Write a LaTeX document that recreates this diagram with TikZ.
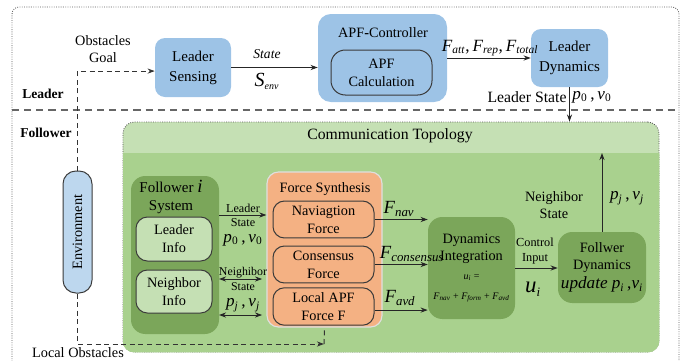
\documentclass[tikz,border=0pt]{standalone}
\usepackage{fontspec}
\setmainfont{Liberation Serif}
\usetikzlibrary{positioning,arrows.meta}

\definecolor{leaderblue}{HTML}{9DC3E6}
\definecolor{envblue}{HTML}{BDD7EE}
\definecolor{greenlight}{HTML}{C5E0B4}
\definecolor{greenmid}{HTML}{A9D18E}
\definecolor{greendark}{HTML}{7BA65A}
\definecolor{forceorange}{HTML}{F4B183}
\definecolor{edgegray}{HTML}{3A3A3A}

\newcommand{\fsz}[2]{\fontsize{#1}{#2}\selectfont}
\newcommand{\vsub}[2]{\textit{#1}\textsubscript{#2}}

\tikzset{
	leaderbox/.style={fill=leaderblue, rounded corners=7pt, align=center, font=\fsz{10.5}{14}},
	innerbox/.style={draw=edgegray, line width=0.7pt, rounded corners=8pt, align=center, font=\fsz{10}{12.5}},
	greenbox/.style={fill=greendark, rounded corners=8pt, align=center},
	arr/.style={-{Stealth[length=5pt,width=3.6pt]}, line width=0.7pt, draw=black!85},
	dblarr/.style={{Stealth[length=5pt,width=3.6pt]}-{Stealth[length=5pt,width=3.6pt]}, line width=0.7pt, draw=black!85},
	dasharr/.style={-{Stealth[length=5pt,width=3.6pt]}, dash pattern=on 3.5pt off 2.5pt, line width=0.7pt, draw=black!80},
	smalltxt/.style={font=\fsz{8.5}{10}, align=center},
	labeltxt/.style={font=\fsz{10}{12}, align=center},
	mathtxt/.style={font=\fsz{12}{14}},
}

\begin{document}
\begin{tikzpicture}[x=0.7pt,y=-0.7pt]
	\useasboundingbox (0,0) rectangle (697,360);
	\draw[densely dotted, gray!70!black, line width=0.6pt, rounded corners=5pt] (12,366) -- (12,7) -- (679,7) -- (679,366);
	\draw[dash pattern=on 5pt off 3.5pt, line width=0.8pt, gray!80!black] (12,110) -- (679,110);

	\node[font=\fsz{9.5}{11}\bfseries] (leadlbl) at (43,94) {Leader};
	\node[font=\fsz{9.5}{11}\bfseries] (follbl) at (46,133) {Follower};
	\node[labeltxt] (obsgoal) at (103,49) {Obstacles\\Goal};

	\node[leaderbox, minimum width=53.2pt, minimum height=41.3pt] (lsense) at (193,67.5) {Leader\\Sensing};
	\node[leaderbox, rounded corners=9pt, minimum width=90.3pt, minimum height=61.6pt] (apf) at (382.5,58) {};
	\node[font=\fsz{10}{12}] (apftitle) at (383,33) {APF\textbf{-}Controller};
	\node[innerbox, fill=leaderblue, rounded corners=10pt, minimum width=70.7pt, minimum height=31.5pt] (apfcalc) at (381.5,72.5) {APF\\Calculation};
	\node[leaderbox, minimum width=53.9pt, minimum height=40.6pt] (ldyn) at (569.5,58) {Leader\\Dynamics};

	\draw[arr] (lsense.east) -- (lsense.east -| apf.west);
	\node[font=\fsz{9.5}{11}\itshape] (statelbl) at (267,54) {State};
	\node[font=\fsz{14}{16}] (senvlbl) at (267,81) {\vsub{S}{\fsz{7}{8}\textit{env}}};
	\draw[arr] (apf.east) -- (ldyn.west);
	\node[mathtxt] (flbl) at (490,48) {\vsub{F}{\textit{att}},\,\vsub{F}{\textit{rep}},\,\vsub{F}{\textit{total}}};

	\node[draw=gray!70!black, densely dotted, line width=0.6pt, fill=greenlight, rounded corners=8pt, minimum width=375.2pt, minimum height=161pt] (comm) at (391,237) {};
	\coordinate (bodytop) at (123,153);
	\begin{scope}
		\clip[rounded corners=8pt] (comm.south west) rectangle (comm.north east);
		\fill[greenmid] (bodytop) rectangle (660,353);
	\end{scope}
	\node[font=\fsz{11}{13}] (commtitle) at (390,136) {Communication Topology};

	\draw[arr] (ldyn.south) -- (ldyn.south |- comm.north);
	\node[font=\fsz{11}{13}] (lstatelbl) at (527,97) {Leader State};
	\node[mathtxt] (p0top) at (592,97) {\vsub{p}{0}\,,\,\vsub{v}{0}};

	\node[fill=envblue, draw=edgegray, line width=0.7pt, rounded corners=9pt, minimum width=20.3pt, minimum height=85.4pt, font=\fsz{10}{12}] (env) at (77.5,232) {\rotatebox{90}{Environment}};
	\draw[dasharr] (env.north) |- ([yshift=-2.5pt]lsense.west);

	\node[greenbox, rounded corners=10pt, minimum width=61.6pt, minimum height=110.6pt] (fsys) at (175,255) {};
	\node[font=\fsz{10.5}{12.5}, align=center] (fsystitle) at (171,197) {Follower \textit{\fsz{13}{12.5}i}\\System};
	\node[innerbox, fill=greenlight, minimum width=53.2pt, minimum height=30.8pt] (linfo) at (174,239) {Leader\\Info};
	\node[innerbox, fill=greenlight, minimum width=53.2pt, minimum height=30.1pt] (ninfo) at (174,291.5) {Neighbor\\Info};

	\node[fill=forceorange, draw=gray!25, line width=0.8pt, rounded corners=8pt, minimum width=80.5pt, minimum height=108.5pt] (fsyn) at (324.5,249.5) {};
	\node[font=\fsz{10}{12}] (fsyntitle) at (325,189) {Force Synthesis};
	\node[innerbox, fill=forceorange, minimum width=70.7pt, minimum height=24.5pt] (navf) at (323.5,219.5) {Naviagtion\\Force};
	\node[innerbox, fill=forceorange, minimum width=70.7pt, minimum height=23.1pt] (consf) at (323.5,264.5) {Consensus\\Force};
	\node[innerbox, fill=forceorange, minimum width=70.7pt, minimum height=23.1pt] (apff) at (323.5,306.5) {Local APF\\Force F};

	\coordinate (lsin) at (219,215);
	\coordinate (nbup) at (219,279);
	\coordinate (nbdn) at (219,315);
	\draw[arr] (lsin) -- (lsin -| fsyn.west);
	\draw[dblarr, shorten >=3pt] (nbup) -- (nbup -| fsyn.west);
	\draw[dblarr, shorten >=3pt] (nbdn) -- (nbdn -| fsyn.west);
	\node[smalltxt] (lslbl) at (243,215) {Leader\\State};
	\node[mathtxt] (p0lbl) at (243,240) {\vsub{p}{0}\,,\,\vsub{v}{0}};
	\node[smalltxt, font=\fsz{8.3}{11}] (nslbl) at (243,279) {Neighibor\\State};
	\node[mathtxt, inner sep=1pt] (pjlbl) at (243,305) {\vsub{p}{\textit{j}}\,,\,\vsub{v}{\textit{j}}};

	\node[greenbox, inner sep=1pt, rounded corners=10pt, minimum width=60.9pt, minimum height=71.4pt] (dint) at (471.5,268) {\fsz{10}{12}Dynamics\\\fsz{10}{12}Integration\\[1pt]\fsz{7}{9}\vsub{u}{\textit{i}} =\\[2pt]\fsz{7}{9}\vsub{F}{\textit{nav}} + \vsub{F}{\textit{form}} + \vsub{F}{\textit{avd}}};
	\draw[arr] (navf.east) -- (navf.east -| dint.west);
	\draw[arr] (consf.east) -- (consf.east -| dint.west);
	\draw[arr] ([yshift=-2.5pt]apff.east) -- ([yshift=-2.5pt]apff.east -| dint.west);
	\node[font=\fsz{13}{15}] (fnavlbl) at (399,209) {\vsub{F}{\fsz{9}{10}\textit{nav}}};
	\node[font=\fsz{13}{15}] (fconlbl) at (412,254) {\vsub{F}{\fsz{9}{10}\textit{consensus}}};
	\node[font=\fsz{13}{15}] (favdlbl) at (400,298) {\vsub{F}{\fsz{9}{10}\textit{avd}}};

	\node[greenbox, inner sep=1pt, rounded corners=10pt, minimum width=61.6pt, minimum height=49.7pt] (fdyn) at (602,267.5) {\fsz{10}{12}Follwer\\\fsz{10}{12}Dynamics\\[1pt]\fsz{12}{14}\textit{update} \vsub{p}{\textit{i}}\,,\vsub{v}{\textit{i}}};
	\draw[arr] (dint.east) -- (dint.east -| fdyn.west);
	\node[smalltxt, font=\fsz{8.6}{10.5}] (ctrllbl) at (535,251) {Control\\Input};
	\node[font=\fsz{16}{18}] (uilbl) at (533,289) {\vsub{u}{\fsz{9}{10}\textit{i}}};

	\draw[arr] (fdyn.north) -- (fdyn.north |- bodytop);
	\node[labeltxt, font=\fsz{10}{11.5}] (nstop) at (554,205) {Neighibor\\State};
	\node[mathtxt] (pjtop) at (627,198) {\vsub{p}{\textit{j}}\,,\,\vsub{v}{\textit{j}}};

	\coordinate (locin) at (324,344);
	\draw[dasharr] (env.south) |- (locin);
	\draw[dash pattern=on 3.5pt off 2.5pt, line width=0.7pt, draw=black!80] (locin) -- (fsyn.south);
	\node[font=\fsz{10}{12}] (locobs) at (78,353) {Local Obstacles};
\end{tikzpicture}
\end{document}
